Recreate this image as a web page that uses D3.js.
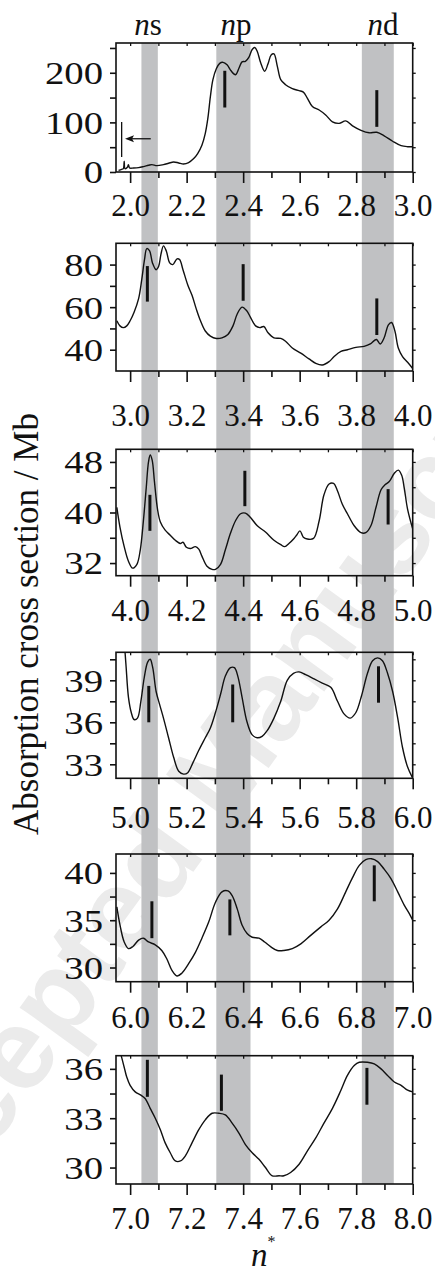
<!DOCTYPE html>
<html>
<head>
<meta charset="utf-8">
<script src="https://cdn.jsdelivr.net/npm/d3@7"></script>
<style>
  body { margin: 0; background: #fff; }
  svg { display: block; }
</style>
</head>
<body>
<svg width="435" height="1275"></svg>
<script>
// n* at the start of each panel
const panelStarts = [2, 3, 4, 5, 6, 7];

// y ranges and ticks of each panel (Mb)
const yDomains = [[0, 260], [30, 90], [30, 50], [32, 41], [28.5, 42], [29, 36.8]];
const yMajor = [[0, 100, 200], [40, 60, 80], [32, 40, 48], [33, 36, 39], [30, 35, 40], [30, 33, 36]];
const yMinor = [[50, 150, 250], [50, 70], [36, 44], [34.5, 37.5, 40.5], [32.5, 37.5], [31.5, 34.5]];

// absorption cross section, [n*, Mb]
const curve1 = [[1.959,3.4],[1.970,5.4],[1.976,6.8],[1.979,21.6],[1.982,6.8],[1.991,10],[1.994,14.9],[1.998,8.1],
  [2.012,8.1],[2.030,8.8],[2.047,10.8],[2.065,13.5],[2.077,14.9],[2.095,12.8],[2.118,14.9],[2.136,17.6],[2.154,20.3],
  [2.172,18.2],[2.189,16.2],[2.207,18.9],[2.225,27],[2.239,37],[2.254,54],[2.266,78],[2.275,108],[2.284,152],
  [2.293,186],[2.305,208],[2.317,219],[2.329,221],[2.343,216],[2.357,204],[2.373,196],[2.385,209],[2.396,222],
  [2.408,223],[2.420,231],[2.432,247],[2.441,251],[2.450,243],[2.462,220],[2.476,203],[2.488,218],[2.499,236],
  [2.509,238],[2.521,213],[2.533,186],[2.550,176],[2.574,168],[2.598,164],[2.613,161],[2.627,149],[2.645,132],
  [2.669,125],[2.692,115],[2.716,101],[2.740,98],[2.763,103],[2.787,93],[2.817,84],[2.846,79],[2.873,80],
  [2.899,73],[2.929,62],[2.959,53],[2.982,51],[3.000,51]];
const curve2 = [[2.953,53.6],[2.964,51.2],[2.976,50.4],[2.988,51.2],[3.000,53.6],[3.014,57.6],[3.030,64],[3.041,72.8],
  [3.051,82.4],[3.059,87.5],[3.069,86.4],[3.079,80.8],[3.092,77.6],[3.101,79.2],[3.109,84.8],[3.118,88.8],[3.128,86.4],
  [3.140,80.8],[3.151,80],[3.166,82.7],[3.175,82.4],[3.187,77.6],[3.204,70.4],[3.219,65.6],[3.234,59.2],[3.249,53.6],
  [3.266,48.8],[3.284,46.4],[3.305,45.3],[3.325,45.6],[3.346,47.2],[3.364,51.2],[3.379,56.8],[3.396,60],[3.412,58.4],
  [3.426,55.2],[3.444,51.2],[3.459,50.4],[3.473,50.9],[3.488,48],[3.509,45.6],[3.533,45.3],[3.550,44],[3.574,40.8],
  [3.604,38.4],[3.633,35.7],[3.657,33.6],[3.680,32.8],[3.704,34.4],[3.722,36.8],[3.746,39.2],[3.769,40],[3.799,41.1],
  [3.828,41.6],[3.850,42.7],[3.864,44.3],[3.872,44.8],[3.885,42.7],[3.899,45.6],[3.914,51.7],[3.925,52.8],
  [3.937,48.8],[3.949,40.8],[3.964,36.8],[3.982,34.1],[4.000,31.2]];
const curve3 = [[3.953,40.8],[3.964,37.7],[3.979,34.6],[3.994,32.3],[4.009,31.2],[4.024,31.8],[4.036,34.1],[4.047,38.7],
  [4.057,43.9],[4.065,48.0],[4.071,49.1],[4.078,48.3],[4.086,44.9],[4.097,40.5],[4.107,38.5],[4.124,37.2],[4.142,36.4],
  [4.160,35.6],[4.178,35.1],[4.187,35.3],[4.199,34.5],[4.213,34.3],[4.231,34.6],[4.243,34.2],[4.254,33.1],[4.272,31.5],
  [4.290,31.0],[4.302,31.0],[4.320,31.8],[4.337,34.1],[4.355,36.7],[4.373,38.7],[4.391,39.8],[4.408,39.9],[4.426,39.2],
  [4.450,37.9],[4.479,36.9],[4.509,35.6],[4.533,34.9],[4.547,34.6],[4.562,35.1],[4.580,35.9],[4.589,36.4],[4.601,37.1],
  [4.613,36.1],[4.627,35.8],[4.649,35.9],[4.669,38.7],[4.686,42.8],[4.704,44.5],[4.720,44.6],[4.734,43.4],[4.751,41.3],
  [4.769,39.8],[4.793,37.9],[4.817,36.8],[4.834,36.8],[4.852,37.9],[4.870,40.8],[4.888,43.6],[4.902,44.4],[4.917,44.9],
  [4.935,46.2],[4.949,46.7],[4.961,45.9],[4.970,43.9],[4.982,40.5],[5.000,37.4]];
const curve4 = [[4.978,42.0],[4.982,41.0],[4.986,39.9],[4.994,37.8],[5.004,36.7],[5.014,36.2],[5.026,36.3],[5.038,37.5],
  [5.050,39.2],[5.062,40.3],[5.071,40.5],[5.080,39.9],[5.092,38.2],[5.104,37.3],[5.118,36.3],[5.136,34.9],[5.154,33.5],
  [5.172,32.5],[5.189,32.3],[5.204,32.4],[5.222,33.1],[5.243,34.0],[5.266,34.9],[5.284,35.6],[5.302,36.7],[5.320,38.0],
  [5.337,39.3],[5.355,39.9],[5.369,39.9],[5.381,39.3],[5.396,37.8],[5.414,36.0],[5.432,35.1],[5.450,34.9],[5.467,35.0],
  [5.485,35.4],[5.509,36.3],[5.533,37.5],[5.556,39.0],[5.578,39.5],[5.598,39.6],[5.621,39.4],[5.651,39.1],[5.680,38.8],
  [5.710,38.5],[5.734,37.5],[5.757,36.6],[5.779,36.3],[5.799,36.7],[5.819,37.9],[5.840,39.5],[5.858,40.4],[5.876,40.6],
  [5.893,40.4],[5.911,39.5],[5.929,38.2],[5.947,36.3],[5.964,34.2],[5.982,32.8],[6.000,32.0]];
const curve5 = [[5.953,36.4],[5.964,34.5],[5.979,32.7],[5.994,32.0],[6.009,32.2],[6.030,32.9],[6.047,33.1],[6.065,32.7],
  [6.089,32.4],[6.112,31.8],[6.130,30.9],[6.148,29.7],[6.166,29.1],[6.183,29.4],[6.207,30.4],[6.231,31.6],[6.254,33.1],
  [6.278,34.8],[6.302,36.9],[6.325,38.0],[6.346,38.1],[6.361,37.6],[6.379,36.2],[6.396,34.5],[6.414,33.6],[6.432,33.2],
  [6.456,33.1],[6.476,32.7],[6.497,32.2],[6.521,31.8],[6.544,31.8],[6.574,32.0],[6.604,32.5],[6.639,33.4],[6.675,34.3],
  [6.704,35.0],[6.734,36.2],[6.763,38.0],[6.787,39.5],[6.811,40.8],[6.834,41.4],[6.854,41.5],[6.876,41.2],[6.899,40.4],
  [6.923,39.4],[6.947,38.0],[6.970,36.6],[6.988,35.7],[7.000,35.0]];
const curve6 = [[6.965,37.0],[6.970,36.7],[6.979,36.1],[6.988,35.5],[7.000,35.0],[7.018,34.6],[7.038,34.4],[7.053,34.2],
  [7.071,33.6],[7.089,33.0],[7.107,32.3],[7.124,31.5],[7.142,30.9],[7.160,30.4],[7.178,30.4],[7.195,30.7],[7.219,31.5],
  [7.243,32.3],[7.266,32.9],[7.290,33.3],[7.314,33.3],[7.337,33.2],[7.361,32.7],[7.385,32.1],[7.408,31.4],[7.432,30.9],
  [7.456,30.5],[7.479,30.0],[7.503,29.5],[7.527,29.5],[7.544,29.5],[7.568,29.7],[7.598,30.2],[7.627,31.0],[7.657,31.8],
  [7.686,32.7],[7.716,33.6],[7.746,34.7],[7.769,35.6],[7.793,36.2],[7.811,36.4],[7.840,36.4],[7.864,36.3],[7.888,36.0],
  [7.911,35.6],[7.935,35.2],[7.959,35.0],[7.982,34.7],[8.000,34.6]];
const curves = [curve1, curve2, curve3, curve4, curve5, curve6];

// predicted resonance positions, [n*, low, high]
const markers = [
  [[2.335, 130, 204], [2.873, 91, 165]],
  [[3.061, 62.6, 79.3], [3.400, 63, 80.2], [3.873, 46.9, 64.1]],
  [[4.070, 37.1, 42.8], [4.406, 41, 46.6], [4.913, 38.1, 43.7]],
  [[5.066, 36.0, 38.6], [5.363, 36.0, 38.7], [5.879, 37.4, 40.0]],
  [[6.077, 33.1, 37.0], [6.353, 33.4, 37.2], [6.864, 37.0, 40.8]],
  [[7.061, 34.3, 36.55], [7.323, 33.45, 35.65], [7.838, 33.82, 36.06]]
];

// threshold mark and arrow in the first panel
const threshold = [1.970, 30, 101];
const arrow = [2.073, 1.982, 67];

// shaded series, as fractional part of n*
const bandLabels = ['s', 'p', 'd'];
const bandFrom = [0.040, 0.305, 0.820];
const bandTo = [0.098, 0.426, 0.933];

// layout
const left = 116, right = 412.7;
const panelTop = [43, 243.3, 449.3, 652.3, 854, 1055.7];
const panelBottom = [172, 371, 575.7, 778.3, 981.7, 1184];
const labelOffset = [44, 55, 45, 50, 46, 45];
const serif = '"Liberation Serif", "Times New Roman", serif';
const ink = '#111';

let svg = d3.select('svg');

// faint watermark
svg.append('text')
  .attr('transform', 'translate(212,778) rotate(-54)')
  .attr('text-anchor', 'middle')
  .attr('dominant-baseline', 'central')
  .style('font-family', '"Liberation Sans", Arial, sans-serif')
  .style('font-weight', 'bold')
  .style('font-size', '115px')
  .attr('fill', '#ebebeb')
  .text('Accepted Manuscript');

// bands across all panels
let xBand = d3.scaleLinear().domain([panelStarts[0] - 0.05, panelStarts[0] + 1]).range([left, right]);
svg.append('g')
  .selectAll('rect')
  .data(bandLabels)
  .join('rect')
    .attr('x', (d, i) => xBand(panelStarts[0] + bandFrom[i]))
    .attr('width', (d, i) => xBand(panelStarts[0] + bandTo[i]) - xBand(panelStarts[0] + bandFrom[i]))
    .attr('y', panelTop[0])
    .attr('height', panelBottom[5] - panelTop[0])
    .attr('fill', '#c0c1c3');

// series labels on top
let labels = svg.append('g')
  .style('font-family', serif)
  .style('font-size', '31px')
  .attr('fill', ink);
bandLabels.forEach(function(s, i) {
  let cx = [148, 236, 383][i];
  let t = labels.append('text')
    .attr('x', cx)
    .attr('y', 35)
    .attr('text-anchor', 'middle');
  t.append('tspan').style('font-style', 'italic').text('n');
  t.append('tspan').text(s);
});

panelStarts.forEach(function(n, i) {
  let top = panelTop[i], bottom = panelBottom[i];

  let x = d3.scaleLinear()
    .domain([n - 0.05, n + 1])
    .range([left, right]);

  let y = d3.scaleLinear()
    .domain(yDomains[i])
    .range([bottom, top]);

  let g = svg.append('g');

  let majorX = d3.range(0, 6).map(k => n + k * 0.2);
  let minorX = d3.range(0, 5).map(k => n + 0.1 + k * 0.2);
  let allX = d3.range(0, 11).map(k => n + k * 0.1);

  // bottom axis
  let bx = g.append('g')
    .attr('transform', `translate(0,${bottom})`)
    .call(d3.axisBottom(x).tickValues(majorX).tickSize(11).tickFormat(d3.format('.1f')));
  bx.select('.domain').remove();
  bx.selectAll('line').attr('stroke', ink).attr('stroke-width', 1.6);
  bx.selectAll('text')
    .attr('y', labelOffset[i])
    .attr('dy', 0)
    .attr('fill', ink)
    .style('font-family', serif)
    .style('font-size', '31px');

  let bm = g.append('g')
    .attr('transform', `translate(0,${bottom})`)
    .call(d3.axisBottom(x).tickValues(minorX).tickSize(6).tickFormat(''));
  bm.select('.domain').remove();
  bm.selectAll('line').attr('stroke', ink).attr('stroke-width', 1.6);

  // top axis, inward ticks
  let tx = g.append('g')
    .attr('transform', `translate(0,${top})`)
    .call(d3.axisTop(x).tickValues(allX).tickSize(-3).tickFormat(''));
  tx.select('.domain').remove();
  tx.selectAll('line').attr('stroke', ink).attr('stroke-width', 1.3);

  // left axis
  let ly = g.append('g')
    .attr('transform', `translate(${left},0)`)
    .call(d3.axisLeft(y).tickValues(yMajor[i]).tickSize(6).tickFormat(d3.format('d')));
  ly.select('.domain').remove();
  ly.selectAll('line').attr('stroke', ink).attr('stroke-width', 1.6);
  ly.selectAll('text')
    .attr('x', -13 / 1.25)
    .attr('dy', '0.35em')
    .attr('transform', 'scale(1.25,1)')
    .attr('fill', ink)
    .style('font-family', serif)
    .style('font-size', '31px');

  let lm = g.append('g')
    .attr('transform', `translate(${left},0)`)
    .call(d3.axisLeft(y).tickValues(yMinor[i]).tickSize(6).tickFormat(''));
  lm.select('.domain').remove();
  lm.selectAll('line').attr('stroke', ink).attr('stroke-width', 1.6);

  // right axis
  let ry = g.append('g')
    .attr('transform', `translate(${right},0)`)
    .call(d3.axisRight(y).tickValues(yMajor[i].concat(yMinor[i])).tickSize(3).tickFormat(''));
  ry.select('.domain').remove();
  ry.selectAll('line').attr('stroke', ink).attr('stroke-width', 1.3);

  // clip
  svg.append('clipPath')
    .attr('id', 'clip' + i)
    .append('rect')
      .attr('x', left)
      .attr('y', top)
      .attr('width', right - left)
      .attr('height', bottom - top);

  // curve
  let line = d3.line()
    .x(d => x(d[0]))
    .y(d => y(d[1]))
    .curve(d3.curveCatmullRom.alpha(0.5));

  g.append('path')
    .datum(curves[i])
    .attr('clip-path', `url(#clip${i})`)
    .attr('d', line)
    .attr('fill', 'none')
    .attr('stroke', ink)
    .attr('stroke-width', 1.4)
    .attr('stroke-linejoin', 'round');

  // resonance markers
  g.selectAll('line.marker')
    .data(markers[i])
    .join('line')
      .attr('class', 'marker')
      .attr('x1', d => x(d[0]))
      .attr('x2', d => x(d[0]))
      .attr('y1', d => y(d[1]))
      .attr('y2', d => y(d[2]))
      .attr('stroke', ink)
      .attr('stroke-width', 3);

  if (i === 0) {
    g.append('line')
      .attr('x1', x(threshold[0]))
      .attr('x2', x(threshold[0]))
      .attr('y1', y(threshold[1]))
      .attr('y2', y(threshold[2]))
      .attr('stroke', ink)
      .attr('stroke-width', 1.3);
    let ax0 = x(arrow[0]), ax1 = x(arrow[1]), ay = y(arrow[2]);
    g.append('line')
      .attr('x1', ax0)
      .attr('x2', ax1 + 6)
      .attr('y1', ay)
      .attr('y2', ay)
      .attr('stroke', ink)
      .attr('stroke-width', 1.3);
    g.append('path')
      .attr('d', `M${ax1},${ay} L${ax1 + 9},${ay - 3.5} L${ax1 + 7},${ay} L${ax1 + 9},${ay + 3.5} Z`)
      .attr('fill', ink);
  }

  // frame
  g.append('rect')
    .attr('x', left)
    .attr('y', top)
    .attr('width', right - left)
    .attr('height', bottom - top)
    .attr('fill', 'none')
    .attr('stroke', ink)
    .attr('stroke-width', 1.6);
});

// axis titles
svg.append('text')
  .attr('transform', 'translate(38,624) rotate(-90)')
  .attr('text-anchor', 'middle')
  .style('font-family', serif)
  .style('font-size', '35px')
  .attr('fill', ink)
  .text('Absorption cross section / Mb');

let xt = svg.append('text')
  .attr('x', 251)
  .attr('y', 1266)
  .style('font-family', serif)
  .attr('fill', ink);
xt.append('tspan').style('font-style', 'italic').style('font-size', '33px').text('n');
xt.append('tspan').attr('dy', -19).style('font-size', '16px').text('*');
</script>
</body>
</html>
